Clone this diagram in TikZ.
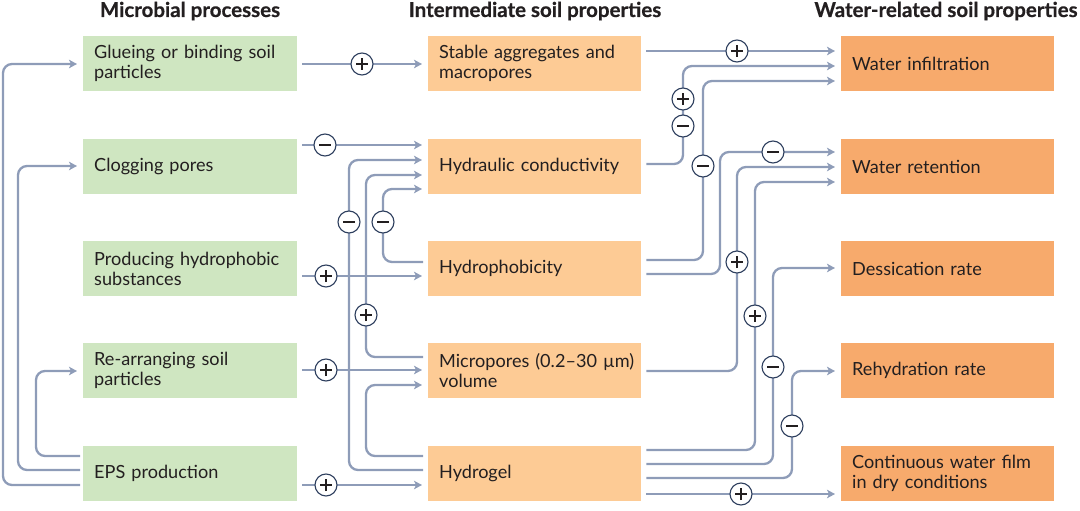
\documentclass[tikz,border=0pt]{standalone}
\usepackage{fontspec}
\setmainfont{Lato}
\newfontfamily\headfont{Lato}[FakeBold=0.6]
\usetikzlibrary{arrows.meta,calc}
\definecolor{gcol}{HTML}{CFE6C1}
\definecolor{mcol}{HTML}{FDCB95}
\definecolor{rcol}{HTML}{F7AA6C}
\definecolor{acol}{HTML}{8E9CB8}
\definecolor{ncol}{HTML}{2E3F5E}
\definecolor{txt}{HTML}{231F20}
\tikzset{
  box/.style={anchor=north west, minimum width=213pt, minimum height=55pt, text width=191pt,
    inner xsep=11pt, inner ysep=0pt, align=left, font=\fontsize{18.1}{20}\selectfont, text=txt},
  gbox/.style={box, fill=gcol},
  mbox/.style={box, fill=mcol},
  rbox/.style={box, fill=rcol},
  head/.style={anchor=base, font=\headfont\fontsize{20.5}{22}\selectfont\bfseries, text=txt},
  conn/.style={line width=2.3pt, draw=acol, rounded corners=9pt,
    -{Stealth[length=8pt,width=8.5pt,inset=2pt]}, shorten >=6pt, shorten <=5pt},
  sgn/.style={circle, draw=ncol, line width=1.1pt, fill=white, minimum size=22pt, inner sep=0pt},
  pl/.style={sgn, path picture={\draw[line width=1.5pt, txt]
      ([xshift=-6pt]path picture bounding box.center) -- ([xshift=6pt]path picture bounding box.center)
      ([yshift=-6pt]path picture bounding box.center) -- ([yshift=6pt]path picture bounding box.center);}},
  mi/.style={sgn, path picture={\draw[line width=1.5pt, txt]
      ([xshift=-6pt]path picture bounding box.center) -- ([xshift=6pt]path picture bounding box.center);}}
}
\begin{document}
\begin{tikzpicture}[x=1pt,y=-1pt]
\useasboundingbox (0,0) rectangle (1080,511);
% headers
\node[head] (h1) at (190,17) {Microbial processes};
\node[head] (h2) at (535,17) {Intermediate soil properties};
\node[head] (h3) at (946,17) {Water-related soil properties};
% left column
\node[gbox, minimum width=214pt, text width=192pt] (g1) at (83,36) {Glueing or binding soil\\particles};
\node[gbox, minimum width=214pt, text width=192pt] (g2) at (83,139) {Clogging pores};
\node[gbox, minimum width=214pt, text width=192pt] (g3) at (83,241) {Producing hydrophobic\\substances};
\node[gbox, minimum width=214pt, text width=192pt] (g4) at (83,343) {Re-arranging soil\\particles};
\node[gbox, minimum width=214pt, text width=192pt] (g5) at (83,446) {EPS production};
% middle column
\node[mbox] (m1) at (428,36) {Stable aggregates and\\macropores};
\node[mbox] (m2) at (428,139) {Hydraulic conductivity};
\node[mbox] (m3) at (428,241) {Hydrophobicity};
\node[mbox] (m4) at (428,343) {\hbox{Micropores (0.2–30 µm)}\\volume};
\node[mbox] (m5) at (428,446) {Hydrogel};
% right column
\node[rbox] (r1) at (841,36) {Water infiltration};
\node[rbox] (r2) at (841,139) {Water retention};
\node[rbox] (r3) at (841,241) {Dessication rate};
\node[rbox] (r4) at (841,343) {Rehydration rate};
\node[rbox] (r5) at (841,446) {Continuous water film\\in dry conditions};
% left loops
\draw[conn, shorten <=3pt] (g5.west |- 0,485) -- (3,485) -- (3,64) -- (g1.west |- 0,64);
\draw[conn, shorten <=3pt] (g5.west |- 0,470) -- (18,470) -- (18,166) -- (g2.west |- 0,166);
\draw[conn, shorten <=3pt] (g5.west |- 0,456) -- (36,456) -- (36,371) -- (g4.west |- 0,371);
% green to middle
\draw[conn] (g1.east |- 0,64) -- (m1.west |- 0,64);
\draw[conn] (g2.east |- 0,145) -- (m2.west |- 0,145);
\draw[conn] (g3.east |- 0,276) -- (m3.west |- 0,276);
\draw[conn] (g4.east |- 0,370) -- (m4.west |- 0,370);
\draw[conn] (g5.east |- 0,485) -- (m5.west |- 0,485);
% middle internal
\draw[conn] (m5.west |- 0,470) -- (349,470) -- (349,160) -- (m2.west |- 0,160);
\draw[conn] (m4.west |- 0,357) -- (366,357) -- (366,175) -- (m2.west |- 0,175);
\draw[conn] (m3.west |- 0,262) -- (383,262) -- (383,189) -- (m2.west |- 0,189);
\draw[conn] (m5.west |- 0,456) -- (366,456) -- (366,385) -- (m4.west |- 0,385);
% middle to right
\draw[conn] (m1.east |- 0,51) -- (r1.west |- 0,51);
\draw[conn] (m2.east |- 0,164) -- (683,164) -- (683,66) -- (r1.west |- 0,66);
\draw[conn] (m3.east |- 0,260) -- (703,260) -- (703,81) -- (r1.west |- 0,81);
\draw[conn] (m3.east |- 0,274) -- (720,274) -- (720,152) -- (r2.west |- 0,152);
\draw[conn] (m4.east |- 0,371) -- (737,371) -- (737,167) -- (r2.west |- 0,167);
\draw[conn] (m5.east |- 0,450) -- (755,450) -- (755,182) -- (r2.west |- 0,182);
\draw[conn] (m5.east |- 0,464) -- (773,464) -- (773,268) -- (r3.west |- 0,268);
\draw[conn] (m5.east |- 0,478) -- (792,478) -- (792,371) -- (r4.west |- 0,371);
\draw[conn] (m5.east |- 0,494) -- (r5.west |- 0,494);
% signs
\node[pl] (s1) at (362,64) {};
\node[mi] (s2) at (325,145) {};
\node[pl] (s3) at (326,276) {};
\node[pl] (s4) at (326,370) {};
\node[pl] (s5) at (326,485) {};
\node[mi] (s6) at (349,222) {};
\node[pl] (s7) at (366,315) {};
\node[mi] (s8) at (383,222) {};
\node[pl] (s9) at (737,51) {};
\node[pl] (s10) at (683,99) {};
\node[mi] (s11) at (683,126) {};
\node[mi] (s12) at (703,166) {};
\node[mi] (s13) at (773,152) {};
\node[pl] (s14) at (737,262) {};
\node[pl] (s15) at (755,316) {};
\node[mi] (s16) at (773,367) {};
\node[mi] (s17) at (792,426) {};
\node[pl] (s18) at (741,494) {};
\end{tikzpicture}
\end{document}
